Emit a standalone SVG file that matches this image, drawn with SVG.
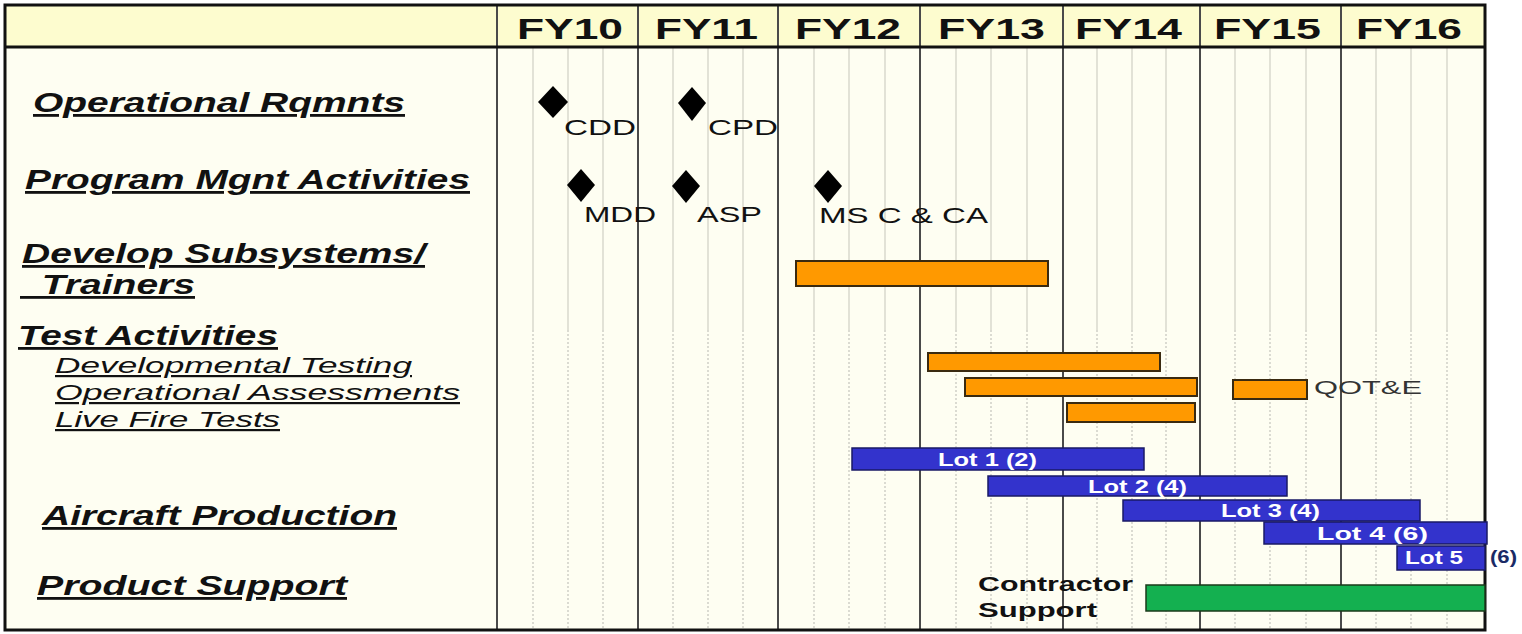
<svg xmlns="http://www.w3.org/2000/svg" width="1522" height="634" viewBox="0 0 1522 634">
<style>
.hdr{font-family:"Liberation Sans",Arial,sans-serif;font-weight:bold;font-size:30px;fill:#111}
.cat{font-family:"Liberation Sans",Arial,sans-serif;font-weight:bold;font-style:italic;font-size:28px;fill:#111;text-decoration:underline}
.sub{font-family:"Liberation Sans",Arial,sans-serif;font-style:italic;font-size:22px;fill:#111;text-decoration:underline}
.ms{font-family:"Liberation Sans",Arial,sans-serif;font-size:22px;fill:#111}
.lot{font-family:"Liberation Sans",Arial,sans-serif;font-weight:bold;font-size:19px;fill:#fff}
.cs{font-family:"Liberation Sans",Arial,sans-serif;font-weight:bold;font-size:20px;fill:#111}
.minor{stroke:#cfcfc4;stroke-width:1.2}
.minord{stroke:#c4c4bc;stroke-width:1.2;stroke-dasharray:2 2}
.major{stroke:#4a4a4a;stroke-width:2}
.orange{fill:#ff9900;stroke:#3a2a10;stroke-width:2}
.blue{fill:#3333cc;stroke:#1a1a66;stroke-width:1.5}
.dia{fill:#000}
</style>
<rect x="0" y="0" width="1522" height="634" fill="#ffffff"/>
<g id="frame">
<rect x="5" y="47" width="1480" height="583" fill="#fefef2"/>
<rect x="5" y="5" width="1480" height="42" fill="#fdfccf"/>
</g>
<g id="grid">
<g class="minor">
<line x1="533" y1="48" x2="533" y2="330"/><line x1="568" y1="48" x2="568" y2="330"/><line x1="603" y1="48" x2="603" y2="330"/>
<line x1="673" y1="48" x2="673" y2="330"/><line x1="708" y1="48" x2="708" y2="330"/><line x1="743" y1="48" x2="743" y2="330"/>
<line x1="814" y1="48" x2="814" y2="330"/><line x1="849" y1="48" x2="849" y2="330"/><line x1="885" y1="48" x2="885" y2="330"/>
<line x1="956" y1="48" x2="956" y2="330"/><line x1="991" y1="48" x2="991" y2="330"/><line x1="1027" y1="48" x2="1027" y2="330"/>
<line x1="1097" y1="48" x2="1097" y2="330"/><line x1="1132" y1="48" x2="1132" y2="330"/><line x1="1166" y1="48" x2="1166" y2="330"/>
<line x1="1235" y1="48" x2="1235" y2="330"/><line x1="1270" y1="48" x2="1270" y2="330"/><line x1="1306" y1="48" x2="1306" y2="330"/>
<line x1="1376" y1="48" x2="1376" y2="330"/><line x1="1411" y1="48" x2="1411" y2="330"/><line x1="1447" y1="48" x2="1447" y2="330"/>
</g>
<g class="minord">
<line x1="533" y1="330" x2="533" y2="629"/><line x1="568" y1="330" x2="568" y2="629"/><line x1="603" y1="330" x2="603" y2="629"/>
<line x1="673" y1="330" x2="673" y2="629"/><line x1="708" y1="330" x2="708" y2="629"/><line x1="743" y1="330" x2="743" y2="629"/>
<line x1="814" y1="330" x2="814" y2="629"/><line x1="849" y1="330" x2="849" y2="629"/><line x1="885" y1="330" x2="885" y2="629"/>
<line x1="956" y1="330" x2="956" y2="629"/><line x1="991" y1="330" x2="991" y2="629"/><line x1="1027" y1="330" x2="1027" y2="629"/>
<line x1="1097" y1="330" x2="1097" y2="629"/><line x1="1132" y1="330" x2="1132" y2="629"/><line x1="1166" y1="330" x2="1166" y2="629"/>
<line x1="1235" y1="330" x2="1235" y2="629"/><line x1="1270" y1="330" x2="1270" y2="629"/><line x1="1306" y1="330" x2="1306" y2="629"/>
<line x1="1376" y1="330" x2="1376" y2="629"/><line x1="1411" y1="330" x2="1411" y2="629"/><line x1="1447" y1="330" x2="1447" y2="629"/>
</g>
<g class="major">
<line x1="497" y1="5" x2="497" y2="630"/>
<line x1="638" y1="5" x2="638" y2="630"/>
<line x1="778" y1="5" x2="778" y2="630"/>
<line x1="920" y1="5" x2="920" y2="630"/>
<line x1="1063" y1="5" x2="1063" y2="630"/>
<line x1="1200" y1="5" x2="1200" y2="630"/>
<line x1="1341" y1="5" x2="1341" y2="630"/>
</g>
<line x1="5" y1="47" x2="1485" y2="47" stroke="#111" stroke-width="3"/>
<rect x="5" y="5" width="1480" height="625" fill="none" stroke="#111" stroke-width="3"/>
</g>
<g id="header">
<text class="hdr" x="517" y="39" textLength="106" lengthAdjust="spacingAndGlyphs">FY10</text>
<text class="hdr" x="655" y="39" textLength="103" lengthAdjust="spacingAndGlyphs">FY11</text>
<text class="hdr" x="795" y="39" textLength="106" lengthAdjust="spacingAndGlyphs">FY12</text>
<text class="hdr" x="938" y="39" textLength="107" lengthAdjust="spacingAndGlyphs">FY13</text>
<text class="hdr" x="1075" y="39" textLength="107" lengthAdjust="spacingAndGlyphs">FY14</text>
<text class="hdr" x="1214" y="39" textLength="107" lengthAdjust="spacingAndGlyphs">FY15</text>
<text class="hdr" x="1356" y="39" textLength="106" lengthAdjust="spacingAndGlyphs">FY16</text>
</g>
<g id="labels">
<text class="cat" x="33" y="112" textLength="372" lengthAdjust="spacingAndGlyphs">Operational Rqmnts</text>
<text class="cat" x="25" y="189" textLength="445" lengthAdjust="spacingAndGlyphs">Program Mgnt Activities</text>
<text class="cat" x="22" y="263" textLength="403" lengthAdjust="spacingAndGlyphs">Develop Subsystems/</text>
<text class="cat" x="20" y="294" textLength="175" lengthAdjust="spacingAndGlyphs" xml:space="preserve">  Trainers</text>
<text class="cat" x="18" y="345" textLength="260" lengthAdjust="spacingAndGlyphs">Test Activities</text>
<text class="sub" x="55" y="373" textLength="357" lengthAdjust="spacingAndGlyphs">Developmental Testing</text>
<text class="sub" x="55" y="400" textLength="405" lengthAdjust="spacingAndGlyphs">Operational Assessments</text>
<text class="sub" x="55" y="427" textLength="225" lengthAdjust="spacingAndGlyphs">Live Fire Tests</text>
<text class="cat" x="42" y="525" textLength="355" lengthAdjust="spacingAndGlyphs">Aircraft Production</text>
<text class="cat" x="37" y="595" textLength="310" lengthAdjust="spacingAndGlyphs">Product Support</text>
</g>
<g id="milestones">
<g id="cdd"><polygon class="dia" points="553,86 568,102 553,118 538,102"/><text class="ms" x="564" y="135" textLength="72" lengthAdjust="spacingAndGlyphs">CDD</text></g>
<g id="cpd"><polygon class="dia" points="692,87 706,103 692,121 678,103"/><text class="ms" x="708" y="135" textLength="70" lengthAdjust="spacingAndGlyphs">CPD</text></g>
<g id="mdd"><polygon class="dia" points="581,169 595,185 581,202 567,185"/><text class="ms" x="584" y="222" textLength="72" lengthAdjust="spacingAndGlyphs">MDD</text></g>
<g id="asp"><polygon class="dia" points="686,170 700,186 686,203 672,186"/><text class="ms" x="697" y="222" textLength="65" lengthAdjust="spacingAndGlyphs">ASP</text></g>
<g id="msc"><polygon class="dia" points="828,170 842,186 828,203 814,186"/><text class="ms" x="819" y="223" textLength="169" lengthAdjust="spacingAndGlyphs">MS C &amp; CA</text></g>
</g>
<g id="bars">
<rect id="develop" class="orange" x="796" y="261" width="252" height="25"/>
<rect id="dt" class="orange" x="928" y="353" width="232" height="18"/>
<rect id="oa" class="orange" x="965" y="378" width="232" height="18"/>
<g id="qote"><rect class="orange" x="1233" y="380" width="74" height="19"/><text x="1314" y="394" font-family="Liberation Sans, Arial, sans-serif" font-size="19" fill="#333" textLength="108" lengthAdjust="spacingAndGlyphs">QOT&amp;E</text></g>
<rect id="lft" class="orange" x="1067" y="403" width="128" height="19"/>
<g id="lot1"><rect class="blue" x="852" y="448" width="292" height="22"/><text class="lot" x="938" y="466" textLength="99" lengthAdjust="spacingAndGlyphs">Lot 1 (2)</text></g>
<g id="lot2"><rect class="blue" x="988" y="476" width="299" height="20"/><text class="lot" x="1088" y="493" textLength="99" lengthAdjust="spacingAndGlyphs">Lot 2 (4)</text></g>
<g id="lot3"><rect class="blue" x="1123" y="500" width="297" height="21"/><text class="lot" x="1221" y="517" textLength="99" lengthAdjust="spacingAndGlyphs">Lot 3 (4)</text></g>
<g id="lot4"><rect class="blue" x="1264" y="522" width="223" height="22"/><text class="lot" x="1317" y="540" textLength="111" lengthAdjust="spacingAndGlyphs">Lot 4 (6)</text></g>
<g id="lot5"><rect class="blue" x="1397" y="546" width="88" height="24"/><text class="lot" x="1405" y="564" textLength="58" lengthAdjust="spacingAndGlyphs">Lot 5</text><text x="1490" y="563" font-family="Liberation Sans, Arial, sans-serif" font-weight="bold" font-size="18" fill="#1a2a66" textLength="27" lengthAdjust="spacingAndGlyphs">(6)</text></g>
<g id="contractor"><rect x="1146" y="585" width="339" height="26" fill="#14b050" stroke="#1a3a1a" stroke-width="1.5"/><text class="cs" x="978" y="591" textLength="155" lengthAdjust="spacingAndGlyphs">Contractor</text><text class="cs" x="978" y="617" textLength="119" lengthAdjust="spacingAndGlyphs">Support</text></g>
</g>
</svg>
